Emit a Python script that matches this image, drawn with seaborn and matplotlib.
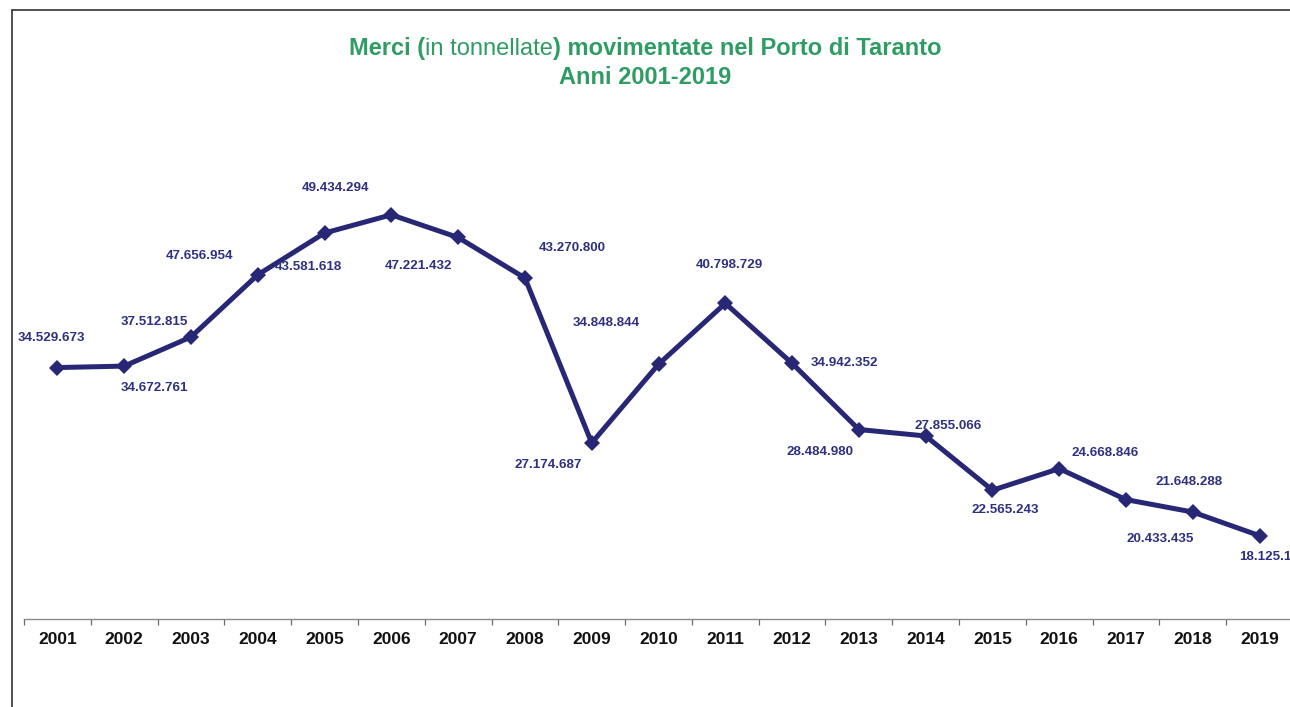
import matplotlib
matplotlib.use("Agg")
import matplotlib.pyplot as plt
from matplotlib.lines import Line2D
import seaborn as sns
import pandas as pd

# ---------------- data ----------------
years = ["2001", "2002", "2003", "2004", "2005", "2006", "2007", "2008", "2009", "2010",
         "2011", "2012", "2013", "2014", "2015", "2016", "2017", "2018", "2019"]
tonnes = [34529673, 34672761, 37512815, 43581618, 47656954, 49434294, 47221432, 43270800,
          27174687, 34848844, 40798729, 34942352, 28484980, 27855066, 22565243, 24668846,
          21648288, 20433435, 18125100]
title_bold_a = "Merci ("
title_normal = "in tonnellate"
title_bold_b = ") movimentate nel Porto di Taranto"
title_line2 = "Anni 2001-2019"

# label offsets in pixels (dx, dy up) - layout only
label_offsets = [(-6, 30), (30, -22), (-37, 15), (51, 8), (-125, -23), (-56, 27), (-40, -29),
                 (47, 30), (-44, -22), (-52, 41), (4, 38), (52, 0), (-39, -22), (22, 10),
                 (13, -20), (46, 16), (63, 18), (-33, -27), (13, -21)]

df = pd.DataFrame({"year": years, "tonnes": tonnes})
df["pos"] = range(len(years))

sns.set_theme(style="white")
plt.rcParams["font.family"] = ["Liberation Sans", "DejaVu Sans"]

W, H = 1290, 707
fig = plt.figure(figsize=(W / 100, H / 100), dpi=100)
ax = fig.add_axes([24 / W, 88 / H, 1269 / W, 512.5 / H])

line_col = "#272775"
lab_col = "#2E3080"
green = "#2F9C63"

sns.lineplot(data=df, x="pos", y="tonnes", ax=ax, color=line_col, linewidth=3.6,
             marker="D", markersize=8.5, markeredgewidth=0)

ax.set_xlim(-0.5, len(years) - 0.5)
ax.set_ylim(10e6, 60e6)
ax.set_xlabel("")
ax.set_ylabel("")
ax.set_yticks([])
for s in ["left", "right", "top"]:
    ax.spines[s].set_visible(False)
ax.spines["bottom"].set_color("#8a8a8a")
ax.spines["bottom"].set_linewidth(1.0)

# boundary ticks (major), labels at category centres (minor)
ax.set_xticks([i - 0.5 for i in range(len(years) + 1)])
ax.set_xticklabels([])
ax.tick_params(axis="x", which="major", bottom=True, direction="out", length=4, width=0.9,
               color="#6a6a6a")
ax.set_xticks(list(range(len(years))), minor=True)
ax.set_xticklabels(years, minor=True, fontsize=12.5, fontweight="bold", color="#111111")
ax.tick_params(axis="x", which="minor", bottom=True, length=0, pad=9)
ax.grid(False)

def fmt(v):
    return f"{v:,}".replace(",", ".")

for i, (v, (dx, dy)) in enumerate(zip(tonnes, label_offsets)):
    ax.annotate(fmt(v), (i, v), xytext=(dx, dy), textcoords="offset pixels",
                ha="center", va="center", fontsize=9.6, fontweight="bold", color=lab_col,
                annotation_clip=False)

# frame lines (top and left)
fig.add_artist(Line2D([12 / W, 1.0], [1 - 10 / H, 1 - 10 / H], transform=fig.transFigure,
                      color="#333333", linewidth=1.2))
fig.add_artist(Line2D([12 / W, 12 / W], [0, 1 - 10 / H], transform=fig.transFigure,
                      color="#333333", linewidth=1.2))

# title with mixed weights
tfam = ["Liberation Sans", "DejaVu Sans"]
tsize = 17
y1 = 1 - 49 / H
y2 = 1 - 77 / H
pieces = [(title_bold_a, "bold"), (title_normal, "normal"), (title_bold_b, "bold")]
texts = [fig.text(0, y1, p, fontsize=tsize, fontweight=w, color=green, family=tfam,
                  ha="left", va="center") for p, w in pieces]
fig.canvas.draw()
r = fig.canvas.get_renderer()
widths = [t.get_window_extent(r).width for t in texts]
total = sum(widths)
x = 645 - total / 2
for t, w in zip(texts, widths):
    t.set_x(x / W)
    x += w
fig.text(645 / W, y2, title_line2, fontsize=tsize, fontweight="bold", color=green,
         family=tfam, ha="center", va="center")

fig.savefig("out.png", dpi=100)
